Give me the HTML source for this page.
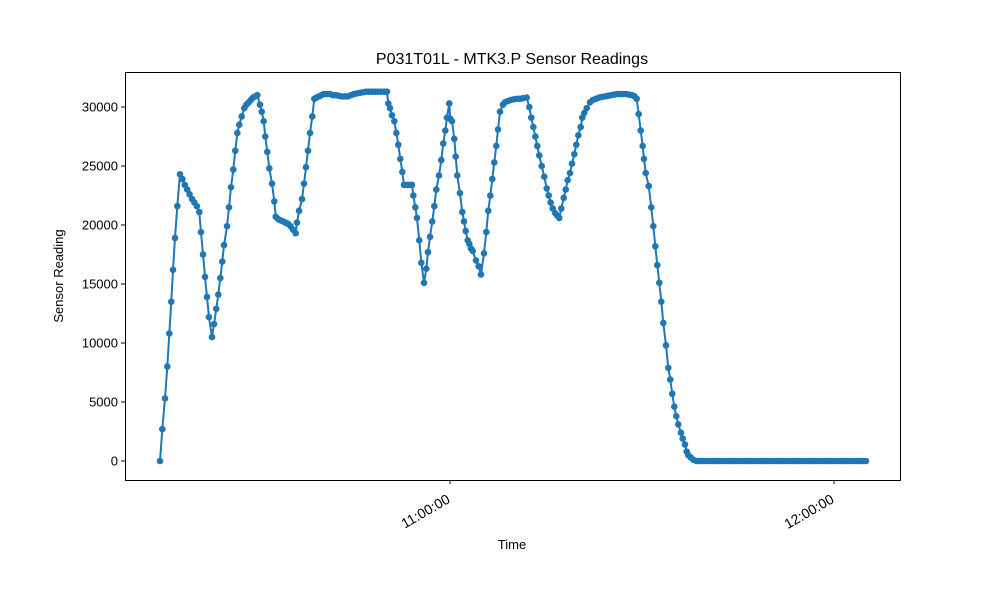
<!DOCTYPE html>
<html><head><meta charset="utf-8"><style>
html,body{margin:0;padding:0;background:#fff;}
svg{display:block;font-family:"Liberation Sans","DejaVu Sans",sans-serif;}
</style></head><body>
<svg id="chart" width="1000" height="600" viewBox="0 0 1000 600">
<rect x="0" y="0" width="1000" height="600" fill="#fff"/>
<text x="512" y="64" text-anchor="middle" font-size="16" fill="#000">P031T01L - MTK3.P Sensor Readings</text>
<text x="512" y="549" text-anchor="middle" font-size="13" fill="#000">Time</text>
<text x="0" y="0" transform="translate(63,276) rotate(-90)" text-anchor="middle" font-size="13" fill="#000">Sensor Reading</text>
<g id="plot"></g>
<rect x="125.5" y="72.5" width="775" height="408" fill="none" stroke="#000" stroke-width="1"/>
</svg>
<script>
// times: minutes since 10:00:00
const times = [14.69,15.05,15.47,15.83,16.14,16.45,16.72,17.03,17.39,17.81,18.19,18.56,18.94,19.31,19.69,20.06,20.44,20.83,21.09,21.41,21.72,22.03,22.34,22.81,23.13,23.48,23.80,24.11,24.42,24.69,25.16,25.47,25.78,26.14,26.45,26.77,27.08,27.45,27.86,28.20,28.55,28.91,29.22,29.53,29.89,30.31,30.58,30.89,31.14,31.45,31.77,32.19,32.55,32.77,33.13,33.52,33.91,34.30,34.69,35.08,35.47,35.89,36.09,36.41,36.88,37.19,37.50,37.81,38.13,38.48,38.80,39.14,39.53,39.92,40.31,40.78,41.25,41.72,42.19,42.66,43.13,43.59,44.06,44.53,45.00,45.47,45.94,46.41,46.88,47.34,47.81,48.28,48.75,49.22,49.69,50.16,50.36,50.63,50.94,51.30,51.61,51.92,52.23,52.55,52.81,53.13,53.44,53.75,54.06,54.27,54.58,54.84,55.20,55.52,55.94,56.30,56.56,56.88,57.23,57.55,57.86,58.28,58.64,58.95,59.27,59.53,59.89,60.05,60.31,60.67,60.89,61.14,61.56,61.92,62.19,62.45,62.77,63.02,63.28,63.55,64.06,64.48,64.84,65.31,65.67,65.98,66.30,66.61,66.92,67.23,67.50,67.81,68.28,68.59,69.06,69.53,70.00,70.47,70.94,71.41,71.98,72.39,72.70,73.02,73.33,73.64,73.95,74.33,74.73,75.11,75.42,75.73,76.05,76.45,76.77,77.08,77.39,77.77,78.08,78.39,78.75,79.06,79.42,79.73,80.05,80.42,80.67,80.98,81.36,81.88,82.34,82.81,83.28,83.75,84.22,84.69,85.16,85.63,86.09,86.56,87.03,87.50,87.97,88.44,88.83,89.17,89.48,89.80,90.11,90.31,90.58,91.05,91.45,91.77,92.08,92.39,92.70,93.02,93.33,93.75,94.11,94.42,94.73,95.05,95.36,95.67,96.09,96.36,96.72,96.98,97.23,97.61,98.02];
const readings = [0,2700,5300,8000,10800,13500,16200,18900,21600,24300,23900,23400,23000,22600,22200,21900,21600,21100,19400,17500,15600,13900,12200,10500,11600,12900,14100,15500,16900,18300,19900,21500,23200,24700,26300,27800,28500,29200,29900,30200,30400,30600,30800,30900,31000,30200,29600,28800,27500,26200,24800,23500,22000,20700,20500,20400,20300,20200,20100,19900,19600,19300,20200,21200,22200,23500,24900,26300,27800,29200,30700,30800,30900,31000,31100,31100,31100,31000,31000,30950,30900,30900,30900,31000,31100,31150,31200,31250,31300,31300,31300,31300,31300,31300,31300,31300,30300,29900,29300,28800,27800,26800,25600,24500,23400,23400,23400,23400,23400,22500,21500,20600,18700,16800,15100,16300,17700,19000,20300,21600,23000,24200,25500,26900,28000,29100,30300,29000,28800,27300,25800,24200,22700,21100,20300,19500,18700,18400,18000,17800,17000,16500,15800,17600,19400,21200,22500,23900,25300,26700,28100,29600,30200,30400,30500,30600,30650,30700,30700,30750,30800,30000,29100,28300,27500,26700,25900,25000,24100,23100,22500,21900,21400,21000,20800,20600,21400,22300,23000,23800,24400,25200,26000,26800,27600,28300,29100,29500,29900,30400,30600,30700,30800,30850,30900,30950,31000,31050,31100,31100,31100,31100,31050,31000,30900,30700,29400,28000,26700,25600,24400,23300,21500,19900,18200,16600,15100,13500,11700,9800,7900,6900,5700,4600,3800,3100,2400,1900,1400,800,500,300,100];
// zero readings after the drain
const tailTimes = [98.5,99.0,99.5,100.0,100.5,101.0,101.5,102.0,102.5,103.0,103.5,104.0,104.5,105.0,105.5,106.0,106.5,107.0,107.5,108.0,108.5,109.0,109.5,110.0,110.5,111.0,111.5,112.0,112.5,113.0,113.5,114.0,114.5,115.0,115.5,116.0,116.5,117.0,117.5,118.0,118.5,119.0,119.5,120.0,120.5,121.0,121.5,122.0,122.5,123.0,123.5,124.0,124.5,125.0];
const tailReadings = [0,0,0,0,0,0,0,0,0,0,0,0,0,0,0,0,0,0,0,0,0,0,0,0,0,0,0,0,0,0,0,0,0,0,0,0,0,0,0,0,0,0,0,0,0,0,0,0,0,0,0,0,0,0];
const yTicks = [0,5000,10000,15000,20000,25000,30000];
const xTicks = [60,120];
const xTickLabels = ["11:00:00","12:00:00"];

const NS="http://www.w3.org/2000/svg";
const g=document.getElementById('plot');
function xs(t){return 450+(t-60)*6.4;}
function ys(v){return 461-v*0.0118;}
function mk(tag,attrs){const e=document.createElementNS(NS,tag);for(const k in attrs)e.setAttribute(k,attrs[k]);g.appendChild(e);return e;}

yTicks.forEach(v=>{
  const y=ys(v);
  const t=mk('line',{x1:121,x2:125,y1:y,y2:y,stroke:'#000','stroke-width':1});
  
  
  const l=mk('text',{x:118,y:y+4.5,'text-anchor':'end','font-size':13,fill:'#000'});
  l.textContent=String(v);
  
  
});
xTicks.forEach((t,i)=>{
  const x=xs(t);
  const tk=mk('line',{x1:x,x2:x,y1:480,y2:484,stroke:'#000','stroke-width':1});
  
  
  const l=mk('text',{x:0,y:0,'text-anchor':'end','font-size':14,fill:'#000',transform:`translate(${x+1},${502}) rotate(-30)`});
  l.textContent=xTickLabels[i];
  
  
});

const allT=times.concat(tailTimes), allV=readings.concat(tailReadings);
const pts=allT.map((t,i)=>xs(t).toFixed(2)+','+ys(allV[i]).toFixed(2)).join(' ');
const line=mk('polyline',{points:pts,fill:'none',stroke:'#1f77b4','stroke-width':2,'stroke-linejoin':'round'});


allT.forEach((t,i)=>{
  const c=mk('circle',{cx:xs(t),cy:ys(allV[i]),r:3.3,fill:'#1f77b4'});
  
  
});
</script>
</body></html>
